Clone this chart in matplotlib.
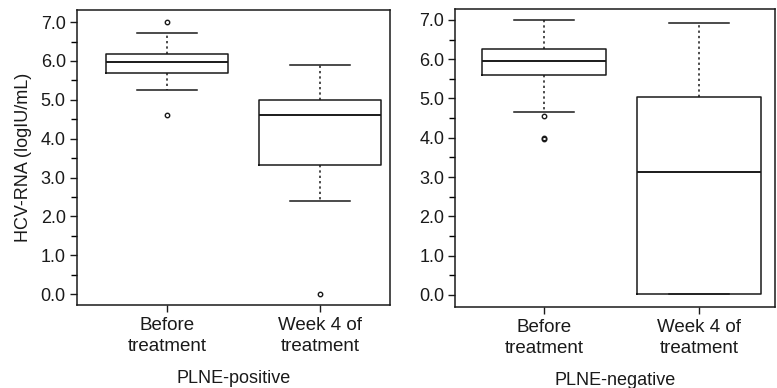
import matplotlib
matplotlib.use("Agg")
import matplotlib.pyplot as plt
from matplotlib.ticker import MultipleLocator

plt.rcParams['font.family'] = ['Liberation Sans', 'DejaVu Sans']

# box statistics (logIU/mL)
groups = ["Before\ntreatment", "Week 4 of\ntreatment"]

pos_q1 = [5.70, 3.32]
pos_med = [5.97, 4.62]
pos_q3 = [6.18, 5.00]
pos_lo = [5.26, 2.40]
pos_hi = [6.72, 5.90]
pos_fliers = [[7.0, 4.6], [0.0]]

neg_q1 = [5.60, 0.02]
neg_med = [5.95, 3.12]
neg_q3 = [6.25, 5.03]
neg_lo = [4.65, 0.02]
neg_hi = [7.00, 6.92]
neg_fliers = [[4.55, 4.0, 3.97], []]


def make_stats(q1, med, q3, lo, hi, fl):
    stats = []
    for i in range(len(q1)):
        stats.append(dict(q1=q1[i], med=med[i], q3=q3[i],
                          whislo=lo[i], whishi=hi[i], fliers=fl[i]))
    return stats


fig = plt.figure(figsize=(7.77, 3.88), dpi=100)
ax1 = fig.add_axes([0.099, 0.214, 0.403, 0.760])
ax2 = fig.add_axes([0.586, 0.209, 0.411, 0.768])

panels = [
    (ax1, make_stats(pos_q1, pos_med, pos_q3, pos_lo, pos_hi, pos_fliers),
     "PLNE-positive", (0.41, 2.46), (-0.28, 7.31)),
    (ax2, make_stats(neg_q1, neg_med, neg_q3, neg_lo, neg_hi, neg_fliers),
     "PLNE-negative", (0.425, 2.49), (-0.305, 7.28)),
]

ink = '#1a1a1a'
for ax, stats, name, xl, yl in panels:
    ax.bxp(stats, positions=[1, 2], widths=0.80,
           boxprops=dict(color=ink, linewidth=1.1),
           medianprops=dict(color=ink, linewidth=1.4),
           whiskerprops=dict(color=ink, linewidth=1.1, linestyle=(0, (1.5, 2))),
           capprops=dict(color=ink, linewidth=1.1),
           capwidths=0.39,
           flierprops=dict(marker='o', markersize=3.2, markerfacecolor='none',
                           markeredgecolor=ink, markeredgewidth=1.0))
    ax.set_xlim(*xl)
    ax.set_ylim(*yl)
    ax.set_xticks([1, 2])
    ax.set_xticklabels(groups, fontsize=13.5, color=ink, linespacing=1.25)
    ax.yaxis.set_major_locator(MultipleLocator(1.0))
    ax.yaxis.set_minor_locator(MultipleLocator(0.5))
    ax.yaxis.set_major_formatter('{x:.1f}')
    ax.tick_params(axis='y', labelsize=13, colors=ink, length=5, width=1.0, pad=3)
    ax.tick_params(axis='y', which='minor', length=4, width=1.0)
    ax.tick_params(axis='x', length=5, width=1.0, colors=ink, pad=4)
    ax.set_xlabel(name, fontsize=13, color=ink, labelpad=11)
    for sp in ax.spines.values():
        sp.set_linewidth(1.1)
        sp.set_color(ink)

ax1.set_ylabel("HCV-RNA (logIU/mL)", fontsize=13, color=ink, labelpad=6)

fig.savefig("out.png", dpi=100)
